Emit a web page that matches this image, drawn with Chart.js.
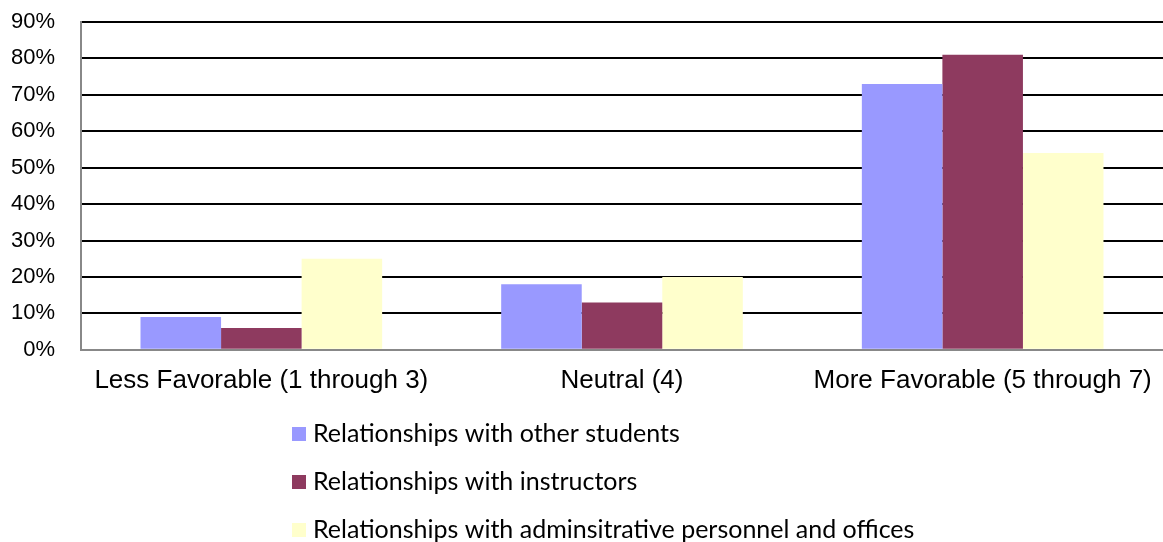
<!DOCTYPE html>
<html>
<head>
<meta charset="utf-8">
<script src="https://cdn.jsdelivr.net/npm/chart.js@4"></script>
<style>
  html, body { margin: 0; padding: 0; background: #fff; }
  #wrap { width: 1163px; height: 542px; position: relative; }
</style>
</head>
<body>
<div id="wrap"><canvas id="ratingsChart"></canvas></div>
<script>
const categories = ['Less Favorable (1 through 3)', 'Neutral (4)', 'More Favorable (5 through 7)'];
const seriesNames = [
    'Relationships with other students',
    'Relationships with instructors',
    'Relationships with adminsitrative personnel and offices'
];
const otherStudents = [9, 18, 73];
const instructors = [6, 13, 81];
const adminOffices = [25, 20, 54];
const yTicks = [0, 10, 20, 30, 40, 50, 60, 70, 80, 90];

const colors = ['#9999FF', '#8E3A5F', '#FFFFCC'];

// legend stacked vertically under the axis, like the original
const stackedLegend = {
    id: 'stackedLegend',
    afterDraw(chart) {
        const c = chart.ctx;
        c.save();
        c.font = '25px Lato';
        c.textBaseline = 'middle';
        chart.data.datasets.forEach(function(ds, i) {
            const y = 434 + i * 48;
            c.fillStyle = ds.backgroundColor;
            c.fillRect(292, y - 7, 14, 14);
            c.fillStyle = '#000';
            c.fillText(ds.label, 313, y);
        });
        c.restore();
    }
};

const ctx = document.getElementById('ratingsChart');
new Chart(ctx.getContext('2d'), {
    type: 'bar',
    data: {
        labels: categories,
        datasets: [
            { label: seriesNames[0], data: otherStudents, backgroundColor: colors[0] },
            { label: seriesNames[1], data: instructors, backgroundColor: colors[1] },
            { label: seriesNames[2], data: adminOffices, backgroundColor: colors[2] }
        ]
    },
    options: {
        responsive: true,
        maintainAspectRatio: false,
        animation: false,
        layout: { padding: { top: 22, right: 0, bottom: 139, left: 0 } },
        datasets: { bar: { barPercentage: 1, categoryPercentage: 0.67 } },
        plugins: {
            legend: { display: false },
            tooltip: { enabled: false }
        },
        scales: {
            x: {
                grid: { display: false },
                border: { color: '#888', width: 2 },
                ticks: { color: '#000', font: { family: 'Liberation Sans', size: 26 }, padding: 7, maxRotation: 0 },
                afterFit: function(axis) {
                    axis.paddingLeft = 0;
                    axis.paddingRight = 0;
                }
            },
            y: {
                min: 0,
                max: 90,
                afterBuildTicks: function(axis) {
                    axis.ticks = yTicks.map(v => ({ value: v }));
                },
                afterFit: function(axis) {
                    axis.width = 81;
                    axis.paddingTop = 0;
                    axis.paddingBottom = 0;
                },
                grid: { color: '#000', lineWidth: 2, drawTicks: false },
                border: { color: '#888', width: 2 },
                ticks: {
                    color: '#000',
                    font: { family: 'Liberation Sans', size: 22 },
                    padding: 26,
                    callback: v => v + '%'
                }
            }
        }
    },
    plugins: [stackedLegend]
});
</script>
</body>
</html>
